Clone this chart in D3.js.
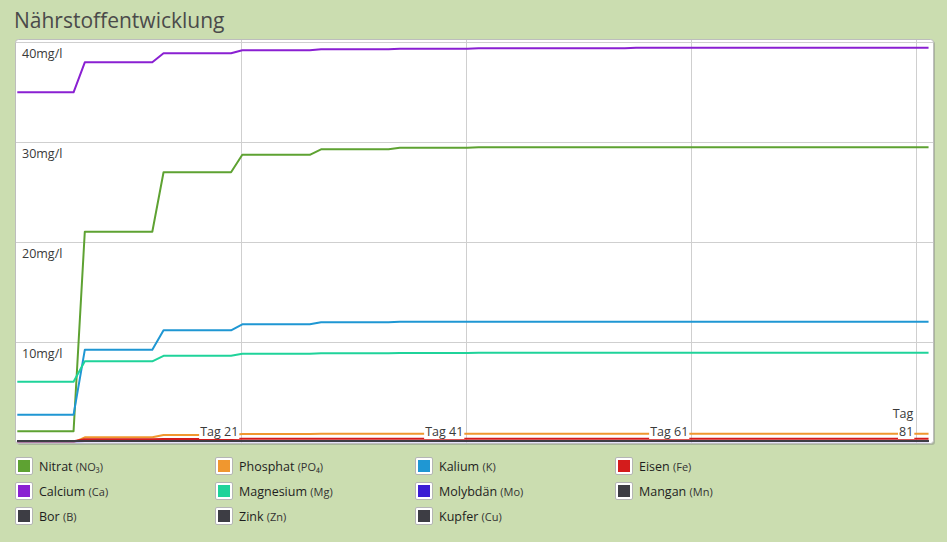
<!DOCTYPE html>
<html>
<head>
<meta charset="utf-8">
<script src="https://cdn.jsdelivr.net/npm/d3@7"></script>
<style>
  body { margin: 0; background: #cbddb0; font-family: "Open Sans", sans-serif; }
  svg { display: block; }
</style>
</head>
<body>
<div id="chart"></div>
<script>
// plateau start days (each value holds until the next start - 1)
const weekStarts = [1, 7, 14, 21, 28, 35, 42, 49, 56, 63, 70, 77];
const lastDay = 82;

const nitrat    = [1.1, 21.05, 27.0, 28.75, 29.3, 29.45, 29.5, 29.5, 29.5, 29.5, 29.5, 29.5];
const phosphat  = [0, 0.5, 0.72, 0.82, 0.85, 0.85, 0.85, 0.85, 0.85, 0.85, 0.85, 0.85];
const kalium    = [2.75, 9.25, 11.2, 11.8, 12.0, 12.05, 12.05, 12.05, 12.05, 12.05, 12.05, 12.05];
const eisen     = [0.1, 0.3, 0.33, 0.35, 0.35, 0.35, 0.35, 0.35, 0.35, 0.35, 0.35, 0.35];
const calcium   = [35.0, 38.0, 38.9, 39.2, 39.3, 39.35, 39.4, 39.4, 39.45, 39.45, 39.45, 39.45];
const magnesium = [6.05, 8.1, 8.65, 8.85, 8.9, 8.92, 8.95, 8.95, 8.95, 8.95, 8.95, 8.95];
const molybdaen = [0.05, 0.1, 0.1, 0.1, 0.1, 0.1, 0.1, 0.1, 0.1, 0.1, 0.1, 0.1];
const mangan    = [0.12, 0.12, 0.12, 0.12, 0.12, 0.12, 0.12, 0.12, 0.12, 0.12, 0.12, 0.12];
const bor       = [0.12, 0.12, 0.12, 0.12, 0.12, 0.12, 0.12, 0.12, 0.12, 0.12, 0.12, 0.12];
const zink      = [0.12, 0.12, 0.12, 0.12, 0.12, 0.12, 0.12, 0.12, 0.12, 0.12, 0.12, 0.12];
const kupfer    = [0.12, 0.12, 0.12, 0.12, 0.12, 0.12, 0.12, 0.12, 0.12, 0.12, 0.12, 0.12];

const yTicks = [10, 20, 30, 40];
const xTicks = [21, 41, 61, 81];

const series = [
  { name: "Nitrat", sym: "(NO\u2083)", color: "#5ea232", values: nitrat },
  { name: "Phosphat", sym: "(PO\u2084)", color: "#f0972f", values: phosphat },
  { name: "Kalium", sym: "(K)", color: "#1f97d3", values: kalium },
  { name: "Eisen", sym: "(Fe)", color: "#d41c1c", values: eisen },
  { name: "Calcium", sym: "(Ca)", color: "#8a20d2", values: calcium },
  { name: "Magnesium", sym: "(Mg)", color: "#1fd39a", values: magnesium },
  { name: "Molybdän", sym: "(Mo)", color: "#3a1cd4", values: molybdaen },
  { name: "Mangan", sym: "(Mn)", color: "#3d3d44", values: mangan },
  { name: "Bor", sym: "(B)", color: "#3d3d44", values: bor },
  { name: "Zink", sym: "(Zn)", color: "#3d3d44", values: zink },
  { name: "Kupfer", sym: "(Cu)", color: "#3d3d44", values: kupfer },
];

const width = 947, height = 542;
const panel = { x: 15.5, y: 39.5, w: 918, h: 404 };

const svg = d3.select("#chart").append("svg")
  .attr("width", width).attr("height", height);

svg.append("text")
  .attr("x", 14).attr("y", 28)
  .attr("font-size", 21).attr("fill", "#4a4a4a")
  .text("Nährstoffentwicklung");

// panel with shadow
svg.append("rect")
  .attr("x", panel.x + 1.5).attr("y", panel.y + 1.5)
  .attr("width", panel.w).attr("height", panel.h)
  .attr("rx", 3).attr("fill", "#a9b59a");
svg.append("rect")
  .attr("x", panel.x).attr("y", panel.y)
  .attr("width", panel.w).attr("height", panel.h)
  .attr("rx", 3).attr("fill", "#fff").attr("stroke", "#bdbdbd");

svg.append("clipPath").attr("id", "plotclip")
  .append("rect")
  .attr("x", 16).attr("y", 40).attr("width", 917).attr("height", 402.5);

const x = d3.scaleLinear().domain([1, 81]).range([17.3, 917.3]);
const y = d3.scaleLinear().domain([0, 40]).range([442.3, 42.3]);

const plot = svg.append("g").attr("clip-path", "url(#plotclip)");

// grid
plot.append("g").selectAll("line").data(yTicks).join("line")
  .attr("x1", 16).attr("x2", 933)
  .attr("y1", (d) => Math.round(y(d)) + 0.5).attr("y2", (d) => Math.round(y(d)) + 0.5)
  .attr("stroke", "#cfcfcf");
plot.append("g").selectAll("line").data(xTicks).join("line")
  .attr("x1", (d) => Math.round(x(d)) - 0.5).attr("x2", (d) => Math.round(x(d)) - 0.5)
  .attr("y1", 40).attr("y2", 443)
  .attr("stroke", "#cfcfcf");

// build step points from plateaus
const points = (values) => {
  const pts = [];
  values.forEach((v, i) => {
    const end = i < weekStarts.length - 1 ? weekStarts[i + 1] - 1 : lastDay;
    pts.push([weekStarts[i], v], [end, v]);
  });
  return pts;
};

const line = d3.line().x((d) => x(d[0])).y((d) => y(d[1]));

plot.append("g").selectAll("path").data(series).join("path")
  .attr("d", (d) => line(points(d.values)))
  .attr("fill", "none")
  .attr("stroke", (d) => d.color)
  .attr("stroke-width", 2)
  .attr("stroke-linejoin", "round");

// y labels
svg.append("g").selectAll("text").data(yTicks).join("text")
  .attr("x", 22).attr("y", (d) => y(d) + 16)
  .attr("font-size", 12.5).attr("fill", "#3a3a3a")
  .text((d) => `${d}mg/l`);

// x labels with white backing
const xl = svg.append("g");
xTicks.forEach((t, i) => {
  const last = i === xTicks.length - 1;
  const g = xl.append("g");
  const right = x(t) - 4;
  const lines = last ? ["Tag", String(t)] : [`Tag ${t}`];
  const txt = g.selectAll("text").data(lines).join("text")
    .attr("x", right)
    .attr("y", (d, j) => 436 - (lines.length - 1 - j) * 18)
    .attr("text-anchor", "end")
    .attr("font-size", 12.5).attr("fill", "#3a3a3a")
    .text((d) => d);
  const boxes = txt.nodes().map((n) => n.getBBox());
  boxes.forEach((b) => {
    g.insert("rect", "text")
      .attr("x", b.x - 1).attr("y", b.y + 1)
      .attr("width", b.width + 2).attr("height", b.height - 2)
      .attr("fill", "#fff");
  });
});

// legend
const legend = svg.append("g");
const item = legend.selectAll("g").data(series).join("g")
  .attr("transform", (d, i) => `translate(${15 + (i % 4) * 200},${457 + Math.floor(i / 4) * 25})`);
item.append("rect")
  .attr("x", 0.5).attr("y", 0.5).attr("width", 17).attr("height", 17)
  .attr("fill", "#fff").attr("stroke", "#b5b5b5").attr("rx", 1.5);
item.append("rect")
  .attr("x", 3).attr("y", 3).attr("width", 12).attr("height", 12)
  .attr("fill", (d) => d.color);
const lt = item.append("text")
  .attr("x", 24).attr("y", 13.5)
  .attr("fill", "#1e1e1e").attr("font-size", 12.5);
lt.append("tspan").text((d) => d.name + " ");
lt.append("tspan").attr("font-size", 11).attr("fill", "#333").text((d) => d.sym);
</script>
</body>
</html>
